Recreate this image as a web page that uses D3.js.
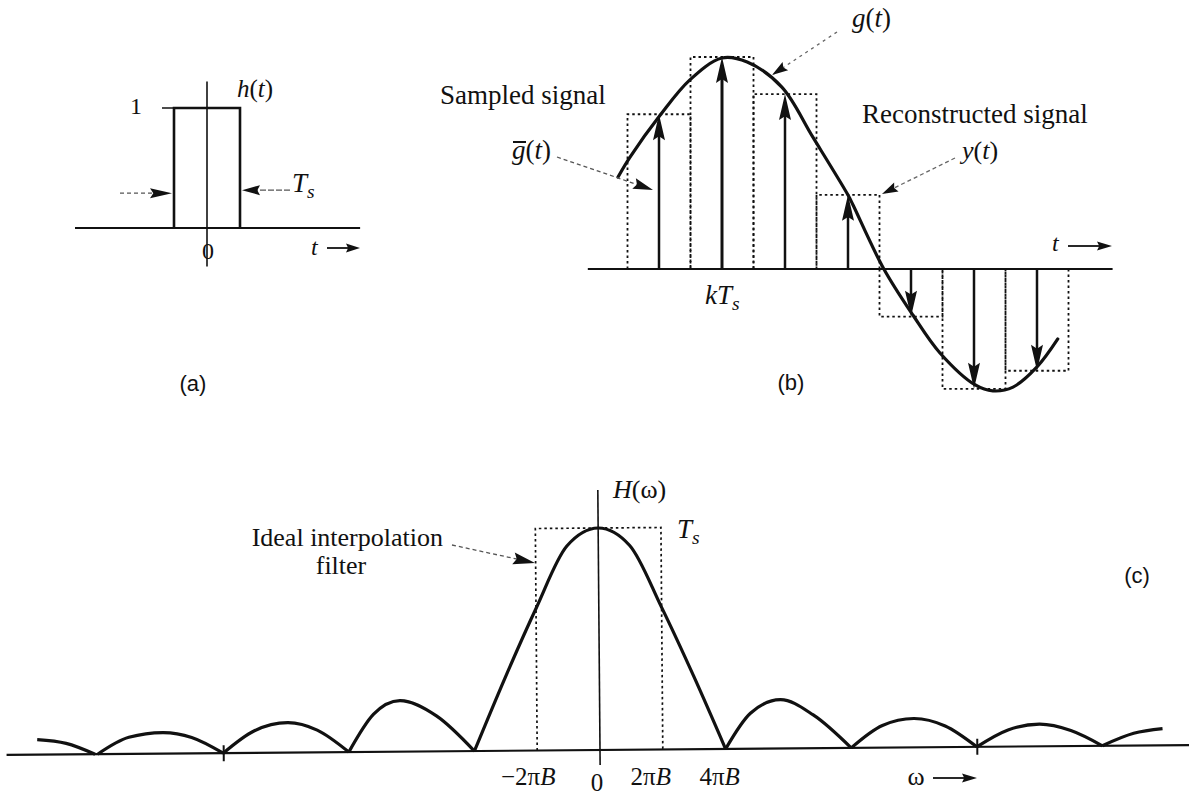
<!DOCTYPE html>
<html><head><meta charset="utf-8">
<script src="https://cdn.jsdelivr.net/npm/d3@7"></script>
<style>
body{margin:0;background:#fff}
svg{display:block}
text{font-family:"Liberation Serif","Times New Roman",serif;fill:#111}
</style>
</head><body>
<svg id="c" width="1189" height="797"></svg>
<script>
// ---------- DATA ----------
// Panel (a): rectangular pulse h(t), t in units of Ts
const aPulseT = [-0.5, 0.5];
const aPulseHeight = 1;
const aAxisT = [-2.0, 2.32];

// Panel (b): samples at kTs (t in units of Ts, k=0 at the peak)
const bSampleT = [-1, 0, 1, 2, 3, 4, 5];
const bSampleValues = [0.73, 1.0, 0.825, 0.35, -0.225, -0.565, -0.48];
// g(t)
const bCurveT = [-1.65, -1.46, -0.98, -0.51, 0, 0.40, 0.95, 1.44, 2.0, 2.08, 2.56, 3.03, 3.46, 4.02, 4.30, 4.62, 5.0, 5.33];
const bCurveV = [0.434, 0.528, 0.726, 0.892, 0.995, 0.976, 0.858, 0.623, 0.349, 0.302, 0.005, -0.217, -0.396, -0.547, -0.575, -0.557, -0.462, -0.330];
const bAxisT = [-2.13, 6.2];

// Panel (c): |H(ω)|, ω in units of 2πB, H in units of Ts
const cMainLobeW = [-2, -1.5, -1, -0.5, 0, 0.5, 1, 1.5, 2];
const cMainLobeH = [0, 0.33, 0.64, 0.92, 1.0, 0.92, 0.64, 0.33, 0];
const cSideLobeW = [
  [-8.96, -8.5, -8.04],
  [-8, -7.5, -6.96, -6.5, -6],
  [-6, -5.5, -4.97, -4.5, -4],
  [-4, -3.6, -3.18, -2.6, -2],
  [2, 2.4, 2.88, 3.4, 4],
  [4, 4.5, 5, 5.5, 6],
  [6, 6.5, 7, 7.5, 8],
  [8, 8.5, 8.96]
];
const cSideLobeH = [
  [0.068, 0.05, 0],
  [0, 0.075, 0.095, 0.072, 0],
  [0, 0.10, 0.135, 0.10, 0],
  [0, 0.17, 0.23, 0.16, 0],
  [0, 0.16, 0.22, 0.15, 0],
  [0, 0.10, 0.13, 0.095, 0],
  [0, 0.075, 0.10, 0.07, 0],
  [0, 0.055, 0.075]
];
const cFilterW = [-1, 1];
const cFilterHeight = 1;
const cTickW = [-6, 6];
const cTickLabels = ["\u22122\u03C0B", "0", "2\u03C0B", "4\u03C0B"];
const cTickLabelW = [-1, 0, 1, 2];
const cAxisW = [-9.45, 9.45];

// ---------- DRAWING ----------
const ink = "#111";
const svg = d3.select("#c");
svg.append("rect").attr("width", 1189).attr("height", 797).attr("fill", "#fff");

function head(g, tip, from, len, hw) {
  const dx = tip[0] - from[0], dy = tip[1] - from[1];
  const L = Math.hypot(dx, dy), ux = dx / L, uy = dy / L;
  const bx = tip[0] - ux * len, by = tip[1] - uy * len, px = -uy, py = ux;
  g.append("path")
    .attr("d", `M${tip[0]},${tip[1]}L${bx + px * hw},${by + py * hw}L${bx + ux * len * 0.15},${by + uy * len * 0.15}L${bx - px * hw},${by - py * hw}Z`)
    .attr("fill", ink);
}
function arrow(g, from, tip, len, hw, sw, dash, color) {
  const dx = tip[0] - from[0], dy = tip[1] - from[1];
  const L = Math.hypot(dx, dy), ux = dx / L, uy = dy / L;
  g.append("line")
    .attr("x1", from[0]).attr("y1", from[1])
    .attr("x2", tip[0] - ux * len * 0.8).attr("y2", tip[1] - uy * len * 0.8)
    .attr("stroke", color || ink).attr("stroke-width", sw)
    .attr("stroke-dasharray", dash || null);
  head(g, tip, from, len, hw);
}
function label(g, x, y, parts, size, anchor) {
  const t = g.append("text").attr("x", x).attr("y", y)
    .attr("font-size", size).attr("text-anchor", anchor || "start");
  parts.forEach(p => {
    const s = t.append("tspan").text(p.t);
    if (p.i) s.attr("font-style", "italic");
    if (p.sub) s.attr("font-size", size * 0.72).attr("dy", size * 0.22);
  });
  return t;
}

// ===== Panel (a) =====
const gA = svg.append("g");
const aX = d3.scaleLinear().domain([-0.5, 0.5]).range([174, 240]);
const aY = d3.scaleLinear().domain([0, 1]).range([228, 108]);

gA.append("line").attr("x1", aX(aAxisT[0])).attr("x2", aX(aAxisT[1]))
  .attr("y1", aY(0)).attr("y2", aY(0)).attr("stroke", ink).attr("stroke-width", 2.2);
gA.append("line").attr("x1", aX(0)).attr("x2", aX(0))
  .attr("y1", aY(1.22)).attr("y2", aY(-0.32)).attr("stroke", ink).attr("stroke-width", 1.6);
gA.append("path")
  .attr("d", `M${aX(aPulseT[0])},${aY(0)}V${aY(aPulseHeight)}H${aX(aPulseT[1])}V${aY(0)}`)
  .attr("fill", "none").attr("stroke", ink).attr("stroke-width", 2.6);
gA.append("line").attr("x1", aX(aPulseT[0]) - 12).attr("x2", aX(aPulseT[0]))
  .attr("y1", aY(aPulseHeight)).attr("y2", aY(aPulseHeight)).attr("stroke", ink).attr("stroke-width", 1.5);
label(gA, 136, 114, [{t: "1"}], 24, "middle");
label(gA, 237, 97, [{t: "h", i: 1}, {t: "("}, {t: "t", i: 1}, {t: ")"}], 25);
arrow(gA, [120, aY(0.29)], [aX(aPulseT[0]) - 2, aY(0.29)], 22, 5, 1.3, "4,3", "#555");
arrow(gA, [290, aY(0.315)], [aX(aPulseT[1]) + 2, aY(0.315)], 18, 5, 1.3, "6,2", "#555");
label(gA, 292, 192, [{t: "T", i: 1}, {t: "s", i: 1, sub: 1}], 27);
label(gA, 208, 259, [{t: "0"}], 24, "middle");
label(gA, 311, 255, [{t: "t", i: 1}], 24);
arrow(gA, [327, 248], [360, 248], 14, 4.5, 1.8);
gA.append("text").attr("x", 193).attr("y", 391).attr("font-size", 22)
  .attr("text-anchor", "middle").style("font-family", "'Liberation Sans',Arial,sans-serif").text("(a)");

// ===== Panel (b) =====
const gB = svg.append("g");
const bX = d3.scaleLinear().domain([0, 1]).range([722, 785]);
const bY = d3.scaleLinear().domain([0, 1]).range([269, 57]);

gB.append("line").attr("x1", bX(bAxisT[0])).attr("x2", bX(bAxisT[1]))
  .attr("y1", bY(0)).attr("y2", bY(0)).attr("stroke", ink).attr("stroke-width", 2.2);

// dotted hold rectangles
bSampleT.forEach((t, i) => {
  gB.append("path")
    .attr("d", `M${bX(t - 0.5)},${bY(0)}V${bY(bSampleValues[i])}H${bX(t + 0.5)}V${bY(0)}`)
    .attr("fill", "none").attr("stroke", ink).attr("stroke-width", 1.8)
    .attr("stroke-dasharray", "2.5,3");
});
// sample impulses
bSampleT.forEach((t, i) => {
  const v = bSampleValues[i];
  arrow(gB, [bX(t), bY(0)], [bX(t), bY(v)], 26, 6, v === 1 ? 3 : 2.5);
});
// g(t) curve
const bLine = d3.line().x(d => bX(d[0])).y(d => bY(d[1])).curve(d3.curveCatmullRom.alpha(0.5));
gB.append("path").datum(bCurveT.map((t, i) => [t, bCurveV[i]]))
  .attr("d", bLine).attr("fill", "none").attr("stroke", ink).attr("stroke-width", 3.2)
  .attr("stroke-linecap", "round");

// labels & leaders
label(gB, 852, 27, [{t: "g", i: 1}, {t: "("}, {t: "t", i: 1}, {t: ")"}], 27);
arrow(gB, [837, 32], [772, 75], 16, 5, 1.3, "3,4", "#666");
label(gB, 440, 104, [{t: "Sampled signal"}], 27);
label(gB, 512, 159, [{t: "g", i: 1}, {t: "("}, {t: "t", i: 1}, {t: ")"}], 27);
gB.append("line").attr("x1", 513).attr("x2", 526).attr("y1", 142).attr("y2", 142)
  .attr("stroke", ink).attr("stroke-width", 2);
arrow(gB, [557, 157], [653, 190], 20, 5.5, 1.3, "4,3", "#555");
label(gB, 862, 123, [{t: "Reconstructed signal"}], 27);
label(gB, 962, 159, [{t: "y", i: 1}, {t: "("}, {t: "t", i: 1}, {t: ")"}], 26);
arrow(gB, [955, 158], [882, 194], 16, 5, 1.3, "4,3", "#666");
label(gB, 705, 304, [{t: "kT", i: 1}, {t: "s", i: 1, sub: 1}], 27);
label(gB, 1052, 251, [{t: "t", i: 1}], 24);
arrow(gB, [1068, 246], [1112, 246], 15, 4.5, 1.8);
gB.append("text").attr("x", 791).attr("y", 390).attr("font-size", 22)
  .attr("text-anchor", "middle").style("font-family", "'Liberation Sans',Arial,sans-serif").text("(b)");

// ===== Panel (c) =====
const gC = svg.append("g");
const gCd = gC.append("g").attr("transform", "rotate(-0.48,600,750)");
const cX = d3.scaleLinear().domain([0, 1]).range([600, 662.8]);
const cY = d3.scaleLinear().domain([0, 1]).range([750, 528]);

gCd.append("line").attr("x1", cX(cAxisW[0])).attr("x2", cX(cAxisW[1]))
  .attr("y1", cY(0)).attr("y2", cY(0)).attr("stroke", ink).attr("stroke-width", 2.2);
const tickG = gCd.append("g").attr("transform", `translate(0,${cY(0) - 8})`)
  .call(d3.axisBottom(cX).tickValues(cTickW).tickSize(16).tickFormat(""));
tickG.select(".domain").remove();
tickG.selectAll(".tick line").attr("stroke", ink).attr("stroke-width", 2);
gCd.append("line").attr("x1", cX(0)).attr("x2", cX(0))
  .attr("y1", 490).attr("y2", 765).attr("stroke", ink).attr("stroke-width", 1.6);
// ideal filter (dotted)
gCd.append("path")
  .attr("d", `M${cX(cFilterW[0])},${cY(0)}V${cY(cFilterHeight)}H${cX(cFilterW[1])}V${cY(0)}`)
  .attr("fill", "none").attr("stroke", ink).attr("stroke-width", 1.7).attr("stroke-dasharray", "2.5,3");
// H(ω)
const cLine = d3.line().x(d => cX(d[0])).y(d => cY(d[1])).curve(d3.curveMonotoneX);
const lobes = [cMainLobeW.map((w, i) => [w, cMainLobeH[i]])]
  .concat(cSideLobeW.map((ws, j) => ws.map((w, i) => [w, cSideLobeH[j][i]])));
lobes.forEach(l => {
  gCd.append("path").datum(l).attr("d", cLine).attr("fill", "none")
    .attr("stroke", ink).attr("stroke-width", 3.2).attr("stroke-linejoin", "round");
});

label(gC, 613, 498, [{t: "H", i: 1}, {t: "(\u03C9)"}], 26);
label(gC, 677, 538, [{t: "T", i: 1}, {t: "s", i: 1, sub: 1}], 27);
label(gC, 443, 546, [{t: "Ideal interpolation"}], 26, "end");
label(gC, 341, 574, [{t: "filter"}], 26, "middle");
arrow(gC, [452, 545], [535, 563], 22, 6, 1.3, "4,3", "#555");
const tlDx = [-9, -3, -12, -6];
const tlDy = [785, 791, 785, 785];
cTickLabels.forEach((s, i) => {
  const parts = s === "0" ? [{t: "0"}] : [{t: s.slice(0, -1)}, {t: "B", i: 1}];
  label(gC, cX(cTickLabelW[i]) + tlDx[i], tlDy[i], parts, 25, "middle");
});
label(gC, 916, 785, [{t: "\u03C9"}], 26, "middle");
arrow(gC, [933, 778], [977, 778], 15, 4.5, 1.8);
gC.append("text").attr("x", 1137).attr("y", 583).attr("font-size", 22)
  .attr("text-anchor", "middle").style("font-family", "'Liberation Sans',Arial,sans-serif").text("(c)");
</script>
</body></html>
